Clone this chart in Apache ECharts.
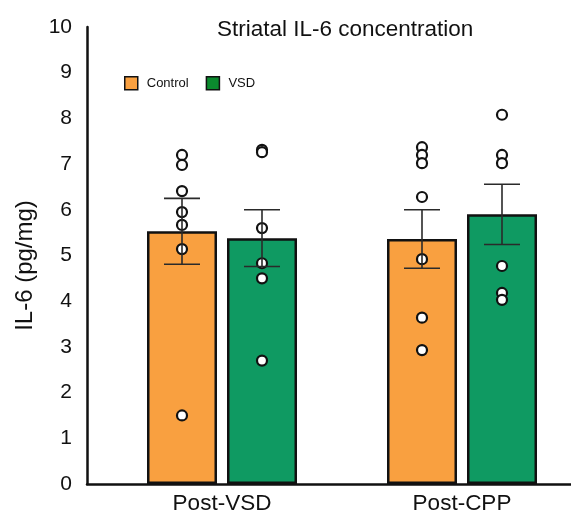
<!DOCTYPE html>
<html>
<head>
<meta charset="utf-8">
<script src="https://cdn.jsdelivr.net/npm/echarts@6/dist/echarts.min.js"></script>
<style>
html,body{margin:0;padding:0;background:#fff;}
#chart{width:571px;height:514px;}
</style>
</head>
<body>
<div id="chart"></div>
<script>
// ---- data ----
var categories = ['Post-VSD', 'Post-CPP'];
var seriesNames = ['Control', 'VSD'];
var controlMean = [5.53, 5.36];
var controlSem = [0.72, 0.64];
var vsdMean = [5.38, 5.9];
var vsdSem = [0.62, 0.66];
var controlPoints = [
  [7.2, 6.98, 6.41, 5.95, 5.67, 5.14, 1.5],
  [7.37, 7.2, 7.02, 6.28, 4.92, 3.64, 2.93]
];
var vsdPoints = [
  [7.31, 7.26, 5.6, 4.83, 4.5, 2.7],
  [8.08, 7.2, 7.02, 4.77, 4.18, 4.03]
];
var yTicks = [0,1,2,3,4,5,6,7,8,9,10];

// ---- style ----
var FONT = 'Liberation Sans, Arial, sans-serif';
var ORANGE = '#F9A040';
var GREEN = '#0F9A62';
var BAR_W = 70, BAR_GAP = 10;
var SHIFT = (BAR_W + BAR_GAP) / 2;

function scatterData(points) {
  var out = [];
  points.forEach(function (arr, ci) {
    arr.forEach(function (v) { out.push([ci, v]); });
  });
  return out;
}
function errData(mean, sem) {
  return mean.map(function (m, i) { return [i, m - sem[i], m + sem[i]]; });
}
function errSeries(mean, sem, dir) {
  return {
    type: 'custom',
    xAxisIndex: 0, yAxisIndex: 0,
    z: 5,
    data: errData(mean, sem),
    renderItem: function (params, api) {
      var lo = api.coord([api.value(0), api.value(1)]);
      var hi = api.coord([api.value(0), api.value(2)]);
      var x = lo[0] + dir * SHIFT;
      var cap = 18;
      var st = { stroke: '#2a2a2a', lineWidth: 1.6 };
      return {
        type: 'group',
        children: [
          { type: 'line', shape: { x1: x, y1: lo[1], x2: x, y2: hi[1] }, style: st },
          { type: 'line', shape: { x1: x - cap, y1: hi[1], x2: x + cap, y2: hi[1] }, style: st },
          { type: 'line', shape: { x1: x - cap, y1: lo[1], x2: x + cap, y2: lo[1] }, style: st }
        ]
      };
    }
  };
}

var chart = echarts.init(document.getElementById('chart'), null, { renderer: 'canvas' });
var option = {
  backgroundColor: '#fff',
  animation: false,
  textStyle: { fontFamily: FONT },
  title: {
    text: 'Striatal IL-6 concentration',
    left: 212, top: 13,
    textStyle: { fontFamily: FONT, fontSize: 22.5, fontWeight: 'normal', color: '#111' }
  },
  legend: {
    left: 119, top: 71,
    itemWidth: 13, itemHeight: 13, itemGap: 17,
    icon: 'rect',
    textStyle: { fontFamily: FONT, fontSize: 13, color: '#111', padding: [0, 0, 0, 4] },
    data: [
      { name: 'Control', itemStyle: { color: ORANGE, borderColor: '#111', borderWidth: 1.5 } },
      { name: 'VSD', itemStyle: { color: '#0B8A2E', borderColor: '#111', borderWidth: 1.5 } }
    ]
  },
  grid: [
    { left: 102, width: 480, top: 27, bottom: 30, outerBoundsMode: 'none', containLabel: false },
    { left: 87, right: 0, top: 27, bottom: 30, outerBoundsMode: 'none', containLabel: false }
  ],
  xAxis: [
    {
      type: 'category', gridIndex: 0, data: categories,
      axisLine: { show: false }, axisTick: { show: false },
      axisLabel: { fontFamily: FONT, fontSize: 22.5, color: '#111', margin: 8 }
    },
    {
      type: 'value', gridIndex: 1, min: 0, max: 1,
      axisLine: { show: true, lineStyle: { color: '#111', width: 2.5 } },
      axisTick: { show: false }, axisLabel: { show: false }, splitLine: { show: false }
    }
  ],
  yAxis: [
    {
      type: 'value', gridIndex: 0, min: yTicks[0], max: yTicks[yTicks.length - 1], interval: 1,
      offset: 15,
      name: 'IL-6 (pg/mg)', nameLocation: 'middle', nameGap: 46, nameRotate: 90,
      nameTextStyle: { fontFamily: FONT, fontSize: 24, color: '#111', padding: [0, 20, 0, 0] },
      axisLine: { show: true, lineStyle: { color: '#111', width: 2.5 } },
      axisTick: { show: false },
      axisLabel: { fontFamily: FONT, fontSize: 21, color: '#111', margin: 15 },
      splitLine: { show: false }
    },
    {
      type: 'value', gridIndex: 1, show: false, min: 0, max: 1
    }
  ],
  series: [
    {
      name: seriesNames[0], type: 'bar', xAxisIndex: 0, yAxisIndex: 0,
      data: controlMean, barWidth: BAR_W, barGap: (BAR_GAP / BAR_W * 100) + '%',
      itemStyle: { color: ORANGE, borderColor: '#111', borderWidth: 2.5 }, z: 2
    },
    {
      name: seriesNames[1], type: 'bar', xAxisIndex: 0, yAxisIndex: 0,
      data: vsdMean, barWidth: BAR_W, barGap: (BAR_GAP / BAR_W * 100) + '%',
      itemStyle: { color: GREEN, borderColor: '#111', borderWidth: 2.5 }, z: 2
    },
    {
      type: 'scatter', xAxisIndex: 0, yAxisIndex: 0, z: 4,
      data: scatterData(controlPoints), symbol: 'circle', symbolSize: 10,
      symbolOffset: [-SHIFT, 0],
      itemStyle: { color: '#fff', borderColor: '#111', borderWidth: 2.2, opacity: 1 }
    },
    {
      type: 'scatter', xAxisIndex: 0, yAxisIndex: 0, z: 4,
      data: scatterData(vsdPoints), symbol: 'circle', symbolSize: 10,
      symbolOffset: [SHIFT, 0],
      itemStyle: { color: '#fff', borderColor: '#111', borderWidth: 2.2, opacity: 1 }
    },
    errSeries(controlMean, controlSem, -1),
    errSeries(vsdMean, vsdSem, 1)
  ]
};
chart.setOption(option);
</script>
</body>
</html>
